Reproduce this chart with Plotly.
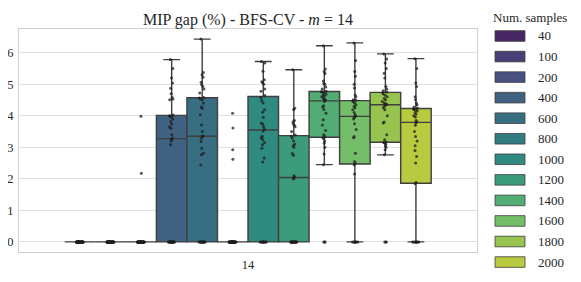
import colorsys
import plotly.graph_objects as go
import plotly.colors as pc

# ---------------- data ----------------
categories = ["40", "100", "200", "400", "600", "800", "1000", "1200", "1400", "1600", "1800", "2000"]
x_label = "14"
y_ticks = [0, 1, 2, 3, 4, 5, 6]

g40 = [0.0, 0.0, 0.0, 0.0, 0.0, 0.0, 0.0, 0.0, 0.0, 0.0, 0.0, 0.0, 0.0, 0.0, 0.0, 0.0, 0.0, 0.0, 0.0, 0.0,
       0.0, 0.0, 0.0, 0.0, 0.0, 0.0, 0.0, 0.0, 0.0, 0.0, 0.0, 0.0, 0.0, 0.0, 0.0, 0.0, 0.0, 0.0, 0.0, 0.0]
g100 = [0.0, 0.0, 0.0, 0.0, 0.0, 0.0, 0.0, 0.0, 0.0, 0.0, 0.0, 0.0, 0.0, 0.0, 0.0, 0.0, 0.0, 0.0, 0.0, 0.0,
        0.0, 0.0, 0.0, 0.0, 0.0, 0.0, 0.0, 0.0, 0.0, 0.0, 0.0, 0.0, 0.0, 0.0, 0.0, 0.0, 0.0, 0.0, 0.0, 0.0]
g200 = [0.0, 0.0, 0.0, 0.0, 0.0, 0.0, 0.0, 0.0, 0.0, 0.0, 0.0, 0.0, 0.0, 0.0, 0.0, 0.0, 0.0, 0.0, 0.0, 0.0,
        0.0, 0.0, 0.0, 0.0, 0.0, 0.0, 0.0, 0.0, 0.0, 0.0, 0.0, 0.0, 0.0, 0.0, 0.0, 0.0, 0.0, 0.0, 2.18, 3.98]
g400 = [0.0, 0.0, 0.0, 0.0, 0.0, 0.0, 0.0, 0.0, 0.0, 0.0, 0.0, 0.0, 0.0, 0.0, 0.0, 0.0, 0.0,
        3.08, 3.20, 3.26, 3.29, 3.40, 3.60, 3.64, 3.74, 3.82, 3.90, 3.96, 3.98, 4.00, 4.02,
        4.51, 4.53, 4.58, 4.70, 4.87, 5.04, 5.20, 5.50, 5.78]
g600 = [0.0, 0.0, 0.0, 0.0, 0.0, 0.0, 0.0, 0.0, 0.0, 0.0, 0.0, 0.0, 0.0,
        2.44, 2.76, 2.81, 2.97, 3.18, 3.29, 3.34, 3.36, 3.50, 3.71, 4.03, 4.24, 4.28, 4.40, 4.51, 4.54,
        4.56, 4.58, 4.72, 4.85, 4.93, 4.99, 5.06, 5.22, 5.30, 5.37, 6.43]
g800 = [0.0, 0.0, 0.0, 0.0, 0.0, 0.0, 0.0, 0.0, 0.0, 0.0, 0.0, 0.0, 0.0, 0.0, 0.0, 0.0, 0.0, 0.0, 0.0, 0.0,
        0.0, 0.0, 0.0, 0.0, 0.0, 0.0, 0.0, 0.0, 0.0, 0.0, 0.0, 0.0, 0.0, 0.0, 0.0, 0.0, 2.62, 2.92, 3.61, 4.08]
g1000 = [0.0, 0.0, 0.0, 0.0, 0.0, 0.0, 0.0, 0.0, 0.0, 0.0, 0.0,
         2.53, 2.66, 2.97, 3.08, 3.15, 3.25, 3.30, 3.35, 3.52, 3.58, 3.66, 3.74, 3.77, 3.95, 4.11, 4.19,
         4.40, 4.48, 4.58, 4.64, 4.78, 4.85, 5.00, 5.05, 5.08, 5.14, 5.41, 5.67, 5.72]
g1200 = [0.0, 0.0, 0.0, 0.0, 0.0, 0.0, 0.0, 0.0, 0.0, 0.0, 0.0, 0.0, 0.0, 0.0, 0.0, 0.0, 0.0, 0.0,
         2.00, 2.02, 2.06, 2.10, 2.75, 2.80, 3.00, 3.05, 3.10, 3.20, 3.30, 3.35, 3.39, 3.50, 3.65,
         3.70, 3.75, 3.80, 3.85, 4.20, 4.24, 5.46]
g1400 = [0.0, 0.0, 0.0,
         2.45, 2.79, 3.00, 3.13, 3.20, 3.28, 3.30, 3.34, 3.40, 3.53, 3.71, 3.87, 4.08, 4.20, 4.28, 4.32,
         4.45, 4.49, 4.52, 4.55, 4.60, 4.62, 4.65, 4.68, 4.72, 4.75, 4.76, 4.78, 4.85, 4.91, 5.00, 5.02,
         5.10, 5.34, 5.40, 5.48, 6.22]
g1600 = [0.0, 0.0, 0.0, 0.0, 0.0, 0.0, 0.0, 0.0,
         2.15, 2.45, 2.49, 2.55, 2.81, 3.30, 3.34, 3.56, 3.75, 3.90, 3.95, 3.97, 3.99, 4.03, 4.10, 4.19,
         4.25, 4.30, 4.35, 4.40, 4.45, 4.47, 4.49, 4.51, 4.60, 4.66, 4.88, 5.00, 5.25, 5.40, 5.75, 6.31]
g1800 = [0.0, 0.0, 0.0,
         2.76, 2.92, 3.00, 3.05, 3.10, 3.14, 3.15, 3.17, 3.24, 3.40, 3.77, 3.80, 4.00, 4.19, 4.25, 4.30,
         4.34, 4.36, 4.38, 4.40, 4.45, 4.51, 4.55, 4.60, 4.65, 4.70, 4.73, 4.75, 4.79, 4.85, 4.93, 5.20,
         5.35, 5.50, 5.67, 5.80, 5.96]
g2000 = [0.0, 0.0, 0.0, 0.0, 0.0, 0.0, 0.0, 0.0, 0.0,
         1.84, 1.88, 2.50, 2.71, 2.90, 3.05, 3.20, 3.34, 3.50, 3.70, 3.78, 3.80, 3.85, 3.96, 4.00, 4.05,
         4.10, 4.15, 4.18, 4.20, 4.22, 4.24, 4.28, 4.35, 4.40, 4.51, 4.60, 4.93, 5.04, 5.50, 5.81]

series = [g40, g100, g200, g400, g600, g800, g1000, g1200, g1400, g1600, g1800, g2000]

title_text = "MIP gap (%) - BFS-CV - <i>m</i> = 14"
legend_title = "Num. samples"

# ---------------- styling ----------------
FONT = "Liberation Serif"
TEXT = "#262626"
EDGE = "#3f3f3f"


def desat(rgb_str, prop=0.75):
    r, g, b = pc.unlabel_rgb(rgb_str)
    h, l, s = colorsys.rgb_to_hls(r / 255, g / 255, b / 255)
    r, g, b = colorsys.hls_to_rgb(h, l, s * prop)
    return "rgb(%d,%d,%d)" % (round(r * 255), round(g * 255), round(b * 255))


n = len(categories)
raw = pc.sample_colorscale("Viridis", [(i + 1) / (n + 1) for i in range(n)])
colors = [desat(c) for c in raw]

fig = go.Figure()
for cat, vals, col in zip(categories, series, colors):
    fig.add_trace(go.Box(
        x=[x_label] * len(vals),
        y=vals,
        name=cat,
        fillcolor=col,
        line=dict(color=EDGE, width=1.4),
        whiskerwidth=0.55,
        boxpoints="all",
        jitter=0.25,
        pointpos=0,
        marker=dict(color="rgba(30,30,30,0.75)", size=3, line=dict(width=0)),
        showlegend=False,
    ))

# the page body has an 8px margin, so the figure is laid out in screen px minus 8
OFF = 8
W, H = 581 - 2 * OFF, 282 - 2 * OFF
PL, PR, PT, PB = 19 - OFF, 477 - OFF, 29 - OFF, 252 - OFF
ML, MR, MT, MB = PL, W - PR, PT, H - PB
pw, ph = PR - PL, PB - PT


def px_x(x):
    return (x - OFF - PL) / pw


def px_y(y):
    return (PB - (y - OFF)) / ph


shapes = []
annotations = []
for i, (cat, col) in enumerate(zip(categories, colors)):
    yc = 36 + 20.55 * i
    shapes.append(dict(type="rect", xref="paper", yref="paper",
                       x0=px_x(495), x1=px_x(525), y0=px_y(yc + 5.3), y1=px_y(yc - 5.3),
                       fillcolor=col, line=dict(color=EDGE, width=0.8)))
    annotations.append(dict(text=cat, xref="paper", yref="paper", x=px_x(536), y=px_y(yc),
                            xanchor="left", yanchor="middle", showarrow=False,
                            font=dict(family=FONT, size=13, color=TEXT)))
annotations.append(dict(text=legend_title, xref="paper", yref="paper", x=px_x(529.5), y=px_y(17),
                        xanchor="center", yanchor="middle", showarrow=False,
                        font=dict(family=FONT, size=13, color=TEXT)))
# title placed centred over the plotting area
annotations.append(dict(text=title_text, xref="paper", yref="paper", x=0.5, y=px_y(20),
                        xanchor="center", yanchor="middle", showarrow=False,
                        font=dict(family=FONT, size=16, color=TEXT)))

fig.update_layout(
    width=W, height=H,
    margin=dict(l=ML, r=MR, t=MT, b=MB, autoexpand=False),
    paper_bgcolor="white", plot_bgcolor="white",
    boxmode="group", boxgap=0.2, boxgroupgap=0,
    shapes=shapes, annotations=annotations,
    showlegend=False,
)
fig.update_xaxes(type="category", range=[-0.5, 0.5], showgrid=False, zeroline=False,
                 showline=True, mirror=True, linecolor="#d0d0d0", linewidth=1.2,
                 ticks="outside", ticklen=1, tickcolor="rgba(0,0,0,0)", automargin=False,
                 tickfont=dict(family=FONT, size=12.5, color=TEXT))
fig.update_yaxes(range=[-0.32, 6.75], tickvals=y_ticks, showgrid=True, gridcolor="#e0e0e0",
                 gridwidth=1, zeroline=False, showline=True, mirror=True, linecolor="#d0d0d0",
                 linewidth=1.2, ticks="outside", ticklen=2, tickcolor="rgba(0,0,0,0)",
                 automargin=False,
                 tickfont=dict(family=FONT, size=12.5, color=TEXT))

fig.write_html("out.html")
